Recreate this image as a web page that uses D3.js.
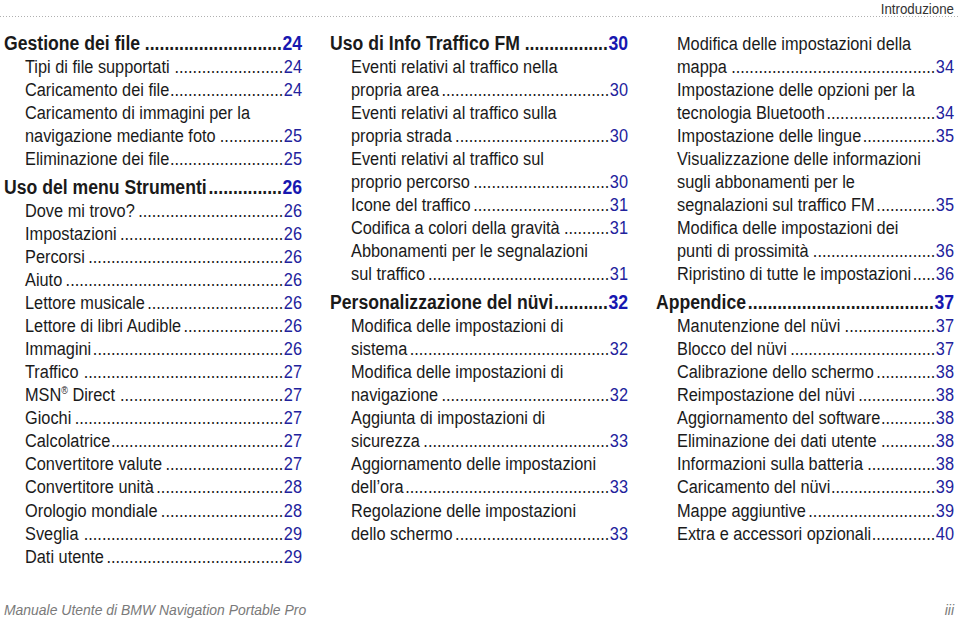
<!DOCTYPE html>
<html><head><meta charset="utf-8">
<script src="https://cdn.jsdelivr.net/npm/d3@7"></script>
<style>body{margin:0;background:#fff}</style>
</head><body>
<svg id="c" width="960" height="620"></svg>
<script>
const headerTitle = "Introduzione";
const footerTitle = "Manuale Utente di BMW Navigation Portable Pro";
const footerPage = "iii";
// [text, page, level]  level 0 = section heading, 1 = entry; page null = line continues below
const column1 = [
  ["Gestione dei file", "24", 0],
  ["Tipi di file supportati", "24", 1],
  ["Caricamento dei file", "24", 1],
  ["Caricamento di immagini per la", null, 1],
  ["navigazione mediante foto", "25", 1],
  ["Eliminazione dei file ", "25", 1],
  ["Uso del menu Strumenti ", "26", 0],
  ["Dove mi trovo? ", "26", 1],
  ["Impostazioni ", "26", 1],
  ["Percorsi", "26", 1],
  ["Aiuto ", "26", 1],
  ["Lettore musicale ", "26", 1],
  ["Lettore di libri Audible ", "26", 1],
  ["Immagini", "26", 1],
  ["Traffico", "27", 1],
  ["MSN® Direct", "27", 1],
  ["Giochi ", "27", 1],
  ["Calcolatrice ", "27", 1],
  ["Convertitore valute ", "27", 1],
  ["Convertitore unità ", "28", 1],
  ["Orologio mondiale ", "28", 1],
  ["Sveglia", "29", 1],
  ["Dati utente ", "29", 1]
];
const column2 = [
  ["Uso di Info Traffico FM", "30", 0],
  ["Eventi relativi al traffico nella", null, 1],
  ["propria area ", "30", 1],
  ["Eventi relativi al traffico sulla", null, 1],
  ["propria strada ", "30", 1],
  ["Eventi relativi al traffico sul", null, 1],
  ["proprio percorso ", "30", 1],
  ["Icone del traffico ", "31", 1],
  ["Codifica a colori della gravità", "31", 1],
  ["Abbonamenti per le segnalazioni", null, 1],
  ["sul traffico ", "31", 1],
  ["Personalizzazione del nüvi", "32", 0],
  ["Modifica delle impostazioni di", null, 1],
  ["sistema ", "32", 1],
  ["Modifica delle impostazioni di", null, 1],
  ["navigazione ", "32", 1],
  ["Aggiunta di impostazioni di", null, 1],
  ["sicurezza ", "33", 1],
  ["Aggiornamento delle impostazioni", null, 1],
  ["dell’ora", "33", 1],
  ["Regolazione delle impostazioni", null, 1],
  ["dello schermo ", "33", 1]
];
const column3 = [
  ["Modifica delle impostazioni della", null, 1],
  ["mappa", "34", 1],
  ["Impostazione delle opzioni per la", null, 1],
  ["tecnologia Bluetooth ", "34", 1],
  ["Impostazione delle lingue ", "35", 1],
  ["Visualizzazione delle informazioni", null, 1],
  ["sugli abbonamenti per le", null, 1],
  ["segnalazioni sul traffico FM ", "35", 1],
  ["Modifica delle impostazioni dei", null, 1],
  ["punti di prossimità", "36", 1],
  ["Ripristino di tutte le impostazioni ", "36", 1],
  ["Appendice ", "37", 0],
  ["Manutenzione del nüvi ", "37", 1],
  ["Blocco del nüvi ", "37", 1],
  ["Calibrazione dello schermo ", "38", 1],
  ["Reimpostazione del nüvi ", "38", 1],
  ["Aggiornamento del software", "38", 1],
  ["Eliminazione dei dati utente", "38", 1],
  ["Informazioni sulla batteria ", "38", 1],
  ["Caricamento del nüvi", "39", 1],
  ["Mappe aggiuntive ", "39", 1],
  ["Extra e accessori opzionali", "40", 1]
];
const columns = [column1, column2, column3];

const W = 960, H = 620;
const FONT = "'Liberation Sans','Arial',sans-serif";
const SX = 0.86; // condensed look
const svg = d3.select("#c");

const colX = d3.scaleBand().domain(d3.range(columns.length)).range([4, 4 + 326 * 3]).paddingInner(0);
const rowY = d3.scaleLinear().domain([0, 22]).range([49.5, 49.5 + 22 * 23.05]);
const headingGap = 6;

function txt(parent, x, y, size, opts = {}) {
  const sx = opts.sx || SX;
  return parent.append("text")
    .attr("transform", `translate(${x},${y}) scale(${sx},1)`)
    .attr("font-family", FONT).attr("font-size", size)
    .attr("font-weight", opts.weight || "normal")
    .attr("font-style", opts.style || "normal")
    .attr("text-anchor", opts.anchor || "start")
    .attr("fill", opts.fill || "#1a1a1a");
}

// header
svg.append("line").attr("x1", 0).attr("x2", W).attr("y1", 16.5).attr("y2", 16.5)
  .attr("stroke", "#b0b0b0").attr("stroke-width", 1).attr("stroke-dasharray", "1,2");
txt(svg, 954, 13.5, 15.5, { anchor: "end", fill: "#333" }).text(headerTitle);
// footer
txt(svg, 4, 615, 15.5, { style: "italic", fill: "#7a7a7a", sx: 0.9 }).text(footerTitle);
txt(svg, 954, 615, 15.5, { style: "italic", fill: "#7a7a7a", anchor: "end", sx: 0.9 }).text(footerPage);

function dotWidth(size, weight) {
  const t = svg.append("text").attr("font-family", FONT).attr("font-size", size).attr("font-weight", weight).text("..........");
  const w = t.node().getComputedTextLength() / 10;
  t.remove();
  return w * SX;
}

columns.forEach((col, ci) => {
  const x0 = colX(ci);
  const right = x0 + 298;
  let gaps = 0;
  const g = svg.append("g");
  col.forEach((row, i) => {
    const [label, page, level] = row;
    if (level === 0 && i > 0) gaps++;
    const y = rowY(i) + gaps * headingGap;
    const size = level === 0 ? 20.5 : 19;
    const weight = level === 0 ? "bold" : "normal";
    const x = level === 0 ? x0 : x0 + 21;
    const t = txt(g, x, y, size, { weight });
    if (label.includes("®")) {
      const parts = label.split("®");
      t.append("tspan").text(parts[0]);
      t.append("tspan").attr("font-size", size * 0.55).attr("dy", -7).text("®");
      t.append("tspan").attr("dy", 7).text(parts[1]);
    } else {
      t.text(label);
    }
    if (page) {
      const p = txt(g, right, y, size, { weight, anchor: "end", fill: level === 0 ? "#1717b0" : "#22229c" }).text(page);
      const textEnd = x + t.node().getComputedTextLength() * SX;
      const pageStart = right - p.node().getComputedTextLength() * SX;
      const dw = dotWidth(size, weight);
      const n = Math.max(0, Math.floor((pageStart - textEnd - 1) / dw));
      txt(g, pageStart - 0.5, y, size, { weight, anchor: "end" }).text(".".repeat(n));
    }
  });
});
</script>
</body></html>
